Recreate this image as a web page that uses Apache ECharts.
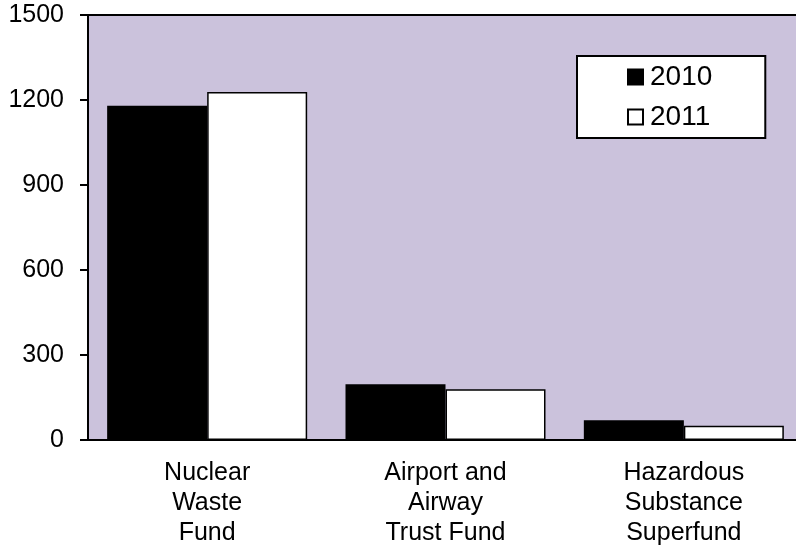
<!DOCTYPE html>
<html>
<head>
<meta charset="utf-8">
<script src="https://cdn.jsdelivr.net/npm/echarts@6/dist/echarts.min.js"></script>
<style>
  html, body { margin: 0; padding: 0; background: #fff; }
  #chart { width: 796px; height: 550px; }
</style>
</head>
<body>
<div id="chart"></div>
<script>
// data
const categories = ["Nuclear\nWaste\nFund", "Airport and\nAirway\nTrust Fund", "Hazardous\nSubstance\nSuperfund"];
const values2010 = [1180, 197, 70];
const values2011 = [1228, 179, 50];
const yTicks = { min: 0, max: 1500, interval: 300 };

const font = "'Liberation Sans', Arial, sans-serif";

const myChart = echarts.init(document.getElementById("chart"));
const option = {
  animation: false,
  textStyle: { fontFamily: font, color: "#000" },
  grid: {
    left: 88,
    top: 15,
    width: 715,
    bottom: 110,
    outerBoundsMode: "none",
    show: true,
    backgroundColor: "#cbc2dc",
    borderColor: "#000",
    borderWidth: 2,
  },
  legend: {
    orient: "vertical",
    left: 577,
    top: 56,
    padding: [7, 53, 7, 50],
    itemGap: 12,
    itemWidth: 15,
    itemHeight: 15,
    backgroundColor: "#fff",
    borderColor: "#000",
    borderWidth: 2,
    borderRadius: 0,
    textStyle: { fontFamily: font, fontSize: 28, color: "#000", padding: [0, 0, 0, 2] },
    data: [
      { name: "2010", icon: "rect" },
      { name: "2011", icon: "rect" },
    ],
  },
  xAxis: {
    type: "category",
    data: categories,
    axisLine: { lineStyle: { color: "#000", width: 2 } },
    axisTick: { show: false },
    axisLabel: {
      fontFamily: font,
      fontSize: 25,
      lineHeight: 30,
      color: "#000",
      margin: 18,
      interval: 0,
    },
  },
  yAxis: {
    type: "value",
    min: yTicks.min,
    max: yTicks.max,
    interval: yTicks.interval,
    splitLine: { show: false },
    axisLine: { show: true, lineStyle: { color: "#000", width: 2 } },
    axisTick: { show: true, inside: false, length: 8, lineStyle: { color: "#000", width: 2 } },
    axisLabel: { fontFamily: font, fontSize: 25, color: "#000", margin: 24, formatter: (v) => String(v) },
  },
  series: [
    {
      name: "2010",
      type: "bar",
      data: values2010,
      barWidth: 100,
      barGap: "0%",
      itemStyle: { color: "#000", borderColor: "#000", borderWidth: 1.5 },
    },
    {
      name: "2011",
      type: "bar",
      data: values2011,
      barWidth: 100,
      itemStyle: { color: "#fff", borderColor: "#000", borderWidth: 1.5 },
    },
  ],
};
myChart.setOption(option);
</script>
</body>
</html>
